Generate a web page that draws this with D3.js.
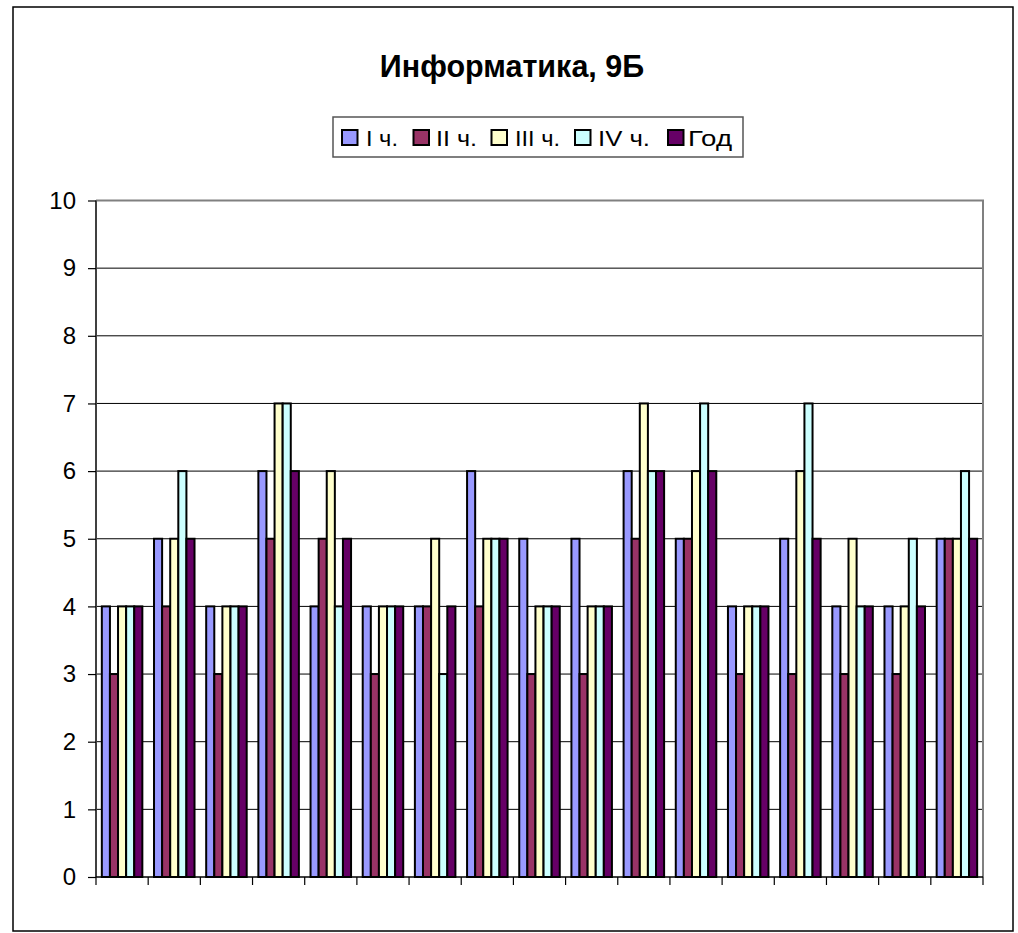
<!DOCTYPE html>
<html><head><meta charset="utf-8">
<script src="https://cdn.jsdelivr.net/npm/d3@7"></script>
<style>html,body{margin:0;padding:0;background:#fff;}svg{display:block;font-family:"Liberation Sans",Arial,sans-serif;}</style>
</head><body>
<svg id="c" width="1018" height="933"></svg>
<script>
const title = "Информатика, 9Б";
const categories = ["1","2","3","4","5","6","7","8","9","10","11","12","13","14","15","16","17"];
const seriesNames = ["I ч.","II ч.","III ч.","IV ч.","Год"];
const colors = ["#9999FF","#993366","#FFFFCC","#CCFFFF","#660066"];
const s1 = [4,5,4,6,4,4,4,6,5,5,6,5,4,5,4,4,5];
const s2 = [3,4,3,5,5,3,4,4,3,3,5,5,3,3,3,3,5];
const s3 = [4,5,4,7,6,4,5,5,4,4,7,6,4,6,5,4,5];
const s4 = [4,6,4,7,4,4,3,5,4,4,6,7,4,7,4,5,6];
const s5 = [4,5,4,6,5,4,4,5,4,4,6,6,4,5,4,4,5];
const yTicks = [0,1,2,3,4,5,6,7,8,9,10];
const seriesValues = [s1,s2,s3,s4,s5];

const svg = d3.select("#c");
svg.append("rect").attr("x",13).attr("y",7).attr("width",1000).attr("height",924)
  .attr("fill","#fff").attr("stroke","#000").attr("stroke-width",1.5);

const L=96, R=983, T=200.5, B=877;
const x = d3.scaleBand().domain(categories).range([L,R]).padding(0);
const xi = d3.scaleBand().domain(seriesNames).range([0,x.bandwidth()]).paddingInner(0).paddingOuter(0.72);
const y = d3.scaleLinear().domain([0,10]).range([B,T]);

svg.append("g").selectAll("line").data(yTicks.filter(v=>v>0 && v<10)).join("line")
  .attr("x1",L).attr("x2",R).attr("y1",d=>y(d)).attr("y2",d=>y(d))
  .attr("stroke","#000").attr("stroke-width",1);
svg.append("path").attr("d",`M${L},${y(10)}H${R}V${B}`).attr("fill","none").attr("stroke","#808080").attr("stroke-width",2);

const data = [];
categories.forEach((c,i)=>seriesNames.forEach((s,j)=>data.push({c,s,v:seriesValues[j][i],j})));
svg.append("g").selectAll("rect").data(data).join("rect")
  .attr("x",d=>x(d.c)+xi(d.s)).attr("width",xi.bandwidth())
  .attr("y",d=>y(d.v)).attr("height",d=>y(0)-y(d.v))
  .attr("fill",d=>colors[d.j]).attr("stroke","#000").attr("stroke-width",2);

const ya = d3.axisLeft(y).tickValues(yTicks).tickSize(8).tickPadding(12).tickFormat(d3.format("d"));
const yg = svg.append("g").attr("transform",`translate(${L},0)`).call(ya);
yg.select(".domain").attr("stroke","#404040").attr("stroke-width",2).attr("d",`M0,${T}V${B}`);
yg.selectAll(".tick line").attr("stroke","#000").attr("stroke-width",1.2);
yg.selectAll("text").attr("font-size",24).attr("fill","#000").attr("font-family","Liberation Sans, Arial, sans-serif");

const bounds = categories.map(c=>x(c)).concat([x(categories[categories.length-1])+x.bandwidth()]);
svg.append("line").attr("x1",L).attr("x2",R).attr("y1",B).attr("y2",B).attr("stroke","#000").attr("stroke-width",1.5);
svg.append("g").selectAll("line").data(bounds).join("line")
  .attr("x1",d=>d).attr("x2",d=>d).attr("y1",B).attr("y2",B+8).attr("stroke","#000").attr("stroke-width",1.2);

svg.append("text").attr("x",512).attr("y",77).attr("text-anchor","middle")
  .attr("font-size",30.5).attr("font-weight","bold").text(title);

const lg = svg.append("g");
lg.append("rect").attr("x",333).attr("y",117).attr("width",410).attr("height",40)
  .attr("fill","#fff").attr("stroke","#555").attr("stroke-width",1.5);
const swX = [342,413.5,491.5,575,668];
const txX = [366,436,515,598,688];
const txW = [32,41,45,52,44];
seriesNames.forEach((s,j)=>{
  lg.append("rect").attr("x",swX[j]).attr("y",130).attr("width",15.5).attr("height",15)
    .attr("fill",colors[j]).attr("stroke","#000").attr("stroke-width",2);
  lg.append("text").attr("x",txX[j]).attr("y",146).attr("font-size",22)
    .attr("textLength",txW[j]).attr("lengthAdjust","spacingAndGlyphs").text(s);
});
</script>
</body></html>
